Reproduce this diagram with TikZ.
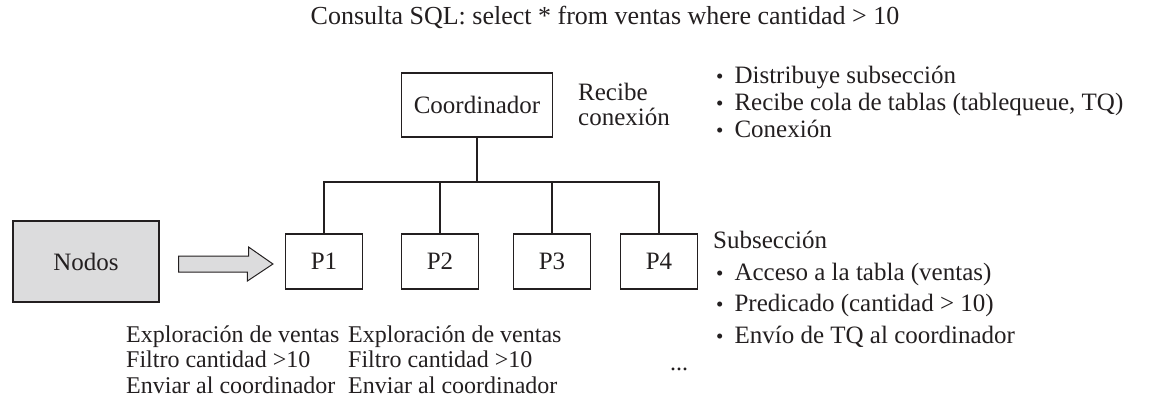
\documentclass[tikz,border=0pt]{standalone}
\usepackage{fontspec}
\setmainfont{Liberation Serif}
\usetikzlibrary{calc}
\definecolor{ink}{HTML}{231F20}
\definecolor{boxgray}{HTML}{DCDCDD}
\newcommand\ff{\fontsize{25}{28}\selectfont}
\newcommand\fs{\fontsize{24}{28}\selectfont}
\newcommand\ft{\fontsize{26}{28}\selectfont}
\newcommand\bul{{\fontsize{21}{20}\selectfont•}\hspace{11pt}}
\begin{document}
\begin{tikzpicture}[x=1pt,y=-1pt,
  every node/.style={text=ink},
  txt/.style={font=\ff, inner sep=0pt},
  lbl/.style={txt, anchor=base west},
  sml/.style={lbl, font=\fs},
  pbox/.style={draw=ink, line width=1.1pt, minimum width=77pt, minimum height=55pt, inner sep=0pt, font=\ff},
  wire/.style={draw=ink, line width=1.1pt}]
\useasboundingbox (0,0) rectangle (1156,404);

\node[txt, font=\ft, anchor=base] (title) at (605,25) {Consulta SQL: select * from ventas where cantidad > 10};

\node[pbox, minimum width=151pt, minimum height=64pt] (C) at (477,105) {Coordinador};
\node[lbl] (rec1) at (578,100) {Recibe};
\node[lbl] (rec2) at (578,125) {conexión};

\node[lbl] (b1) at (716,83) {\bul Distribuye subsección};
\node[lbl] (b2) at (716,110) {\bul Recibe cola de tablas (tablequeue, TQ)};
\node[lbl] (b3) at (716,137) {\bul Conexión};

\node[pbox] (P1) at (324,261.5) {P1};
\node[pbox] (P2) at (440,261.5) {P2};
\node[pbox] (P3) at (552,261.5) {P3};
\node[pbox] (P4) at (659,261.5) {P4};

\coordinate (bar) at (477,182);
\draw[wire] (C.south) -- (bar);
\draw[wire] (P1.north) -- (P1.north |- bar) -- (P4.north |- bar) -- (P4.north);
\draw[wire] (P2.north) -- (P2.north |- bar);
\draw[wire] (P3.north) -- (P3.north |- bar);

\node[pbox, fill=boxgray, minimum width=146pt, minimum height=81pt] (N) at (86,261.5) {Nodos};
% block arrow from Nodos towards P1
\draw[draw=ink, fill=boxgray, line width=1pt, line join=miter]
  ($(N.east)+(19,-5.5)$) -- ++(70,0) -- ++(0,-9) -- ($(P1.west)+(-12,2.5)$)
  -- ($(P1.west)+(-37.5,19.5)$) -- ++(0,-9) -- ($(N.east)+(19,10.5)$) -- cycle;

\node[lbl] (s0) at (713,248) {Subsección};
\node[lbl] (s1) at (716,280) {\bul Acceso a la tabla (ventas)};
\node[lbl] (s2) at (716,311) {\bul Predicado (cantidad > 10)};
\node[lbl] (s3) at (716,343) {\bul Envío de TQ al coordinador};

\node[sml] (l1) at (126,342) {Exploración de ventas};
\node[sml] (l2) at (126,367) {Filtro cantidad >10};
\node[sml] (l3) at (126,393) {Enviar al coordinador};
\node[sml] (m1) at (348,342) {Exploración de ventas};
\node[sml] (m2) at (348,367) {Filtro cantidad >10};
\node[sml] (m3) at (348,393) {Enviar al coordinador};
\node[sml] (dots) at (670,370) {...};
\end{tikzpicture}
\end{document}
